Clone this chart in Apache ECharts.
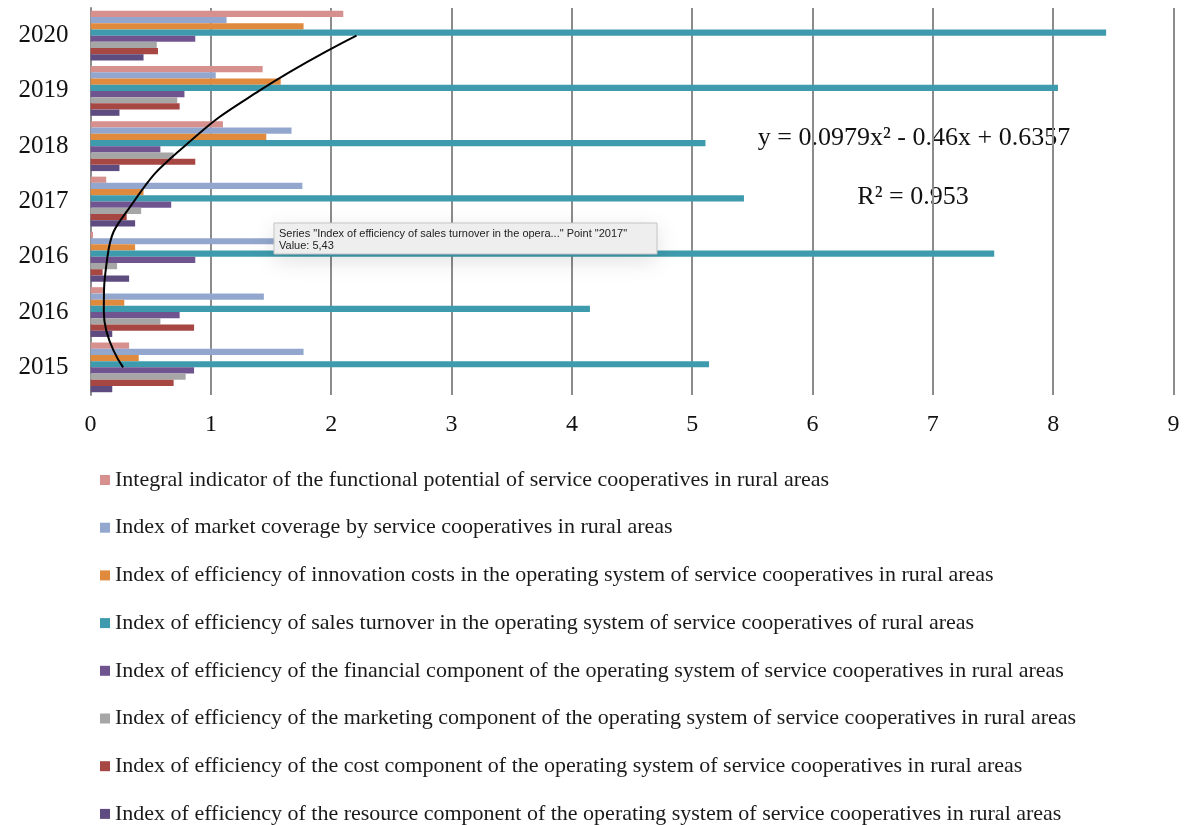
<!DOCTYPE html>
<html>
<head>
<meta charset="utf-8">
<script src="https://cdn.jsdelivr.net/npm/echarts@6/dist/echarts.min.js"></script>
<style>
  html, body { margin: 0; padding: 0; background: #ffffff; }
  #chart { width: 1184px; height: 825px; }
</style>
</head>
<body>
<div id="chart"></div>
<script>
// Years on the category axis (bottom to top)
const years = ['2015', '2016', '2016', '2017', '2018', '2019', '2020'];

// Indicator names, in legend order
const seriesNames = [
  'Integral indicator of the functional potential of service cooperatives in rural areas',
  'Index of market coverage by service cooperatives in rural areas',
  'Index of efficiency of innovation costs in the operating system of service cooperatives in rural areas',
  'Index of efficiency of sales turnover in the operating system of service cooperatives of rural areas',
  'Index of efficiency of the financial component of the operating system of service cooperatives in rural areas',
  'Index of efficiency of the marketing component of the operating system of service cooperatives in rural areas',
  'Index of efficiency of the cost component of the operating system of service cooperatives in rural areas',
  'Index of efficiency of the resource component of the operating system of service cooperatives in rural areas'
];

// Values per indicator, one per year
const integralIndicator = [0.32, 0.11, 0.02, 0.13, 1.10, 1.43, 2.10];
const marketCoverage    = [1.77, 1.44, 1.65, 1.76, 1.67, 1.04, 1.13];
const innovationCosts   = [0.40, 0.28, 0.37, 0.44, 1.46, 1.58, 1.77];
const salesTurnover     = [5.14, 4.15, 7.51, 5.43, 5.11, 8.04, 8.44];
const financialComp     = [0.86, 0.74, 0.87, 0.67, 0.58, 0.78, 0.87];
const marketingComp     = [0.79, 0.58, 0.22, 0.42, 0.69, 0.72, 0.55];
const costComp          = [0.69, 0.86, 0.10, 0.30, 0.87, 0.74, 0.56];
const resourceComp      = [0.18, 0.18, 0.32, 0.37, 0.24, 0.24, 0.44];

// Polynomial trend of the integral indicator, one point per year
const trendValues = [0.27, 0.11, 0.14, 0.36, 0.78, 1.40, 2.21];

// Axis ticks
const xTicks = [0, 1, 2, 3, 4, 5, 6, 7, 8, 9];

const seriesValues = [
  integralIndicator, marketCoverage, innovationCosts, salesTurnover,
  financialComp, marketingComp, costComp, resourceComp
];
const seriesColors = [
  '#D6918F', '#93A7CE', '#E08A3E', '#3E9BAD',
  '#6F5490', '#A6A6A6', '#A74744', '#5E4B80'
];

const serif = '"Liberation Serif", "DejaVu Serif", serif';
const sans = '"Liberation Sans", Arial, sans-serif';

const chart = echarts.init(document.getElementById('chart'));

const barSeries = seriesNames.map((name, i) => ({
  name: name,
  type: 'bar',
  data: seriesValues[i],
  itemStyle: { color: seriesColors[i] },
  barGap: '0%',
  barCategoryGap: '10%',
  silent: true,
  z: 2
}));

const trendSeries = {
  name: 'trend',
  type: 'line',
  data: trendValues,
  smooth: 0.5,
  symbol: 'none',
  lineStyle: { color: '#000000', width: 2 },
  silent: true,
  z: 5
};

chart.setOption({
  animation: false,
  backgroundColor: '#ffffff',
  grid: { left: 90.6, right: 10.5, top: 8, bottom: 430, containLabel: false },
  xAxis: {
    type: 'value',
    min: xTicks[0],
    max: xTicks[xTicks.length - 1],
    interval: 1,
    axisLine: { show: false },
    axisTick: { show: false },
    splitLine: { show: true, lineStyle: { color: '#8C8C8C', width: 2 } },
    axisLabel: {
      margin: 18,
      fontFamily: serif,
      fontSize: 24,
      color: '#111111',
      formatter: v => String(v)
    }
  },
  yAxis: {
    type: 'category',
    data: years,
    axisLine: { show: true, lineStyle: { color: '#8C8C8C', width: 2 } },
    axisTick: { show: false },
    axisLabel: {
      margin: 22,
      fontFamily: serif,
      fontSize: 25,
      color: '#111111'
    }
  },
  legend: {
    data: seriesNames,
    orient: 'vertical',
    left: 100,
    top: 469,
    padding: 0,
    itemWidth: 10,
    itemHeight: 10,
    itemGap: 25.7,
    icon: 'rect',
    selectedMode: false,
    textStyle: {
      fontFamily: serif,
      fontSize: 22,
      lineHeight: 22,
      color: '#1a1a1a'
    }
  },
  series: barSeries.concat([trendSeries]),
  graphic: [
    {
      type: 'text',
      z: -1,
      style: {
        x: 914, y: 138,
        text: 'y = 0.0979x\u00B2 - 0.46x + 0.6357',
        font: '26px ' + serif,
        fill: '#111111',
        align: 'center',
        verticalAlign: 'middle'
      }
    },
    {
      type: 'text',
      z: -1,
      style: {
        x: 913, y: 197,
        text: 'R\u00B2 = 0.953',
        font: '26px ' + serif,
        fill: '#111111',
        align: 'center',
        verticalAlign: 'middle'
      }
    },
    {
      type: 'rect',
      z: 100,
      shape: { x: 274, y: 223, width: 383, height: 31 },
      style: {
        fill: '#EFEFEF',
        stroke: '#C4C4C4',
        lineWidth: 1,
        shadowBlur: 24,
        shadowOffsetY: 6,
        shadowColor: 'rgba(0,0,0,0.12)'
      }
    },
    {
      type: 'text',
      z: 101,
      style: {
        x: 279, y: 234,
        text: 'Series "Index of efficiency of sales turnover in the opera..." Point "2017"',
        font: '11px ' + sans,
        fill: '#222222',
        align: 'left',
        verticalAlign: 'middle'
      }
    },
    {
      type: 'text',
      z: 101,
      style: {
        x: 279, y: 246,
        text: 'Value: 5,43',
        font: '11px ' + sans,
        fill: '#222222',
        align: 'left',
        verticalAlign: 'middle'
      }
    }
  ]
});
</script>
</body>
</html>
